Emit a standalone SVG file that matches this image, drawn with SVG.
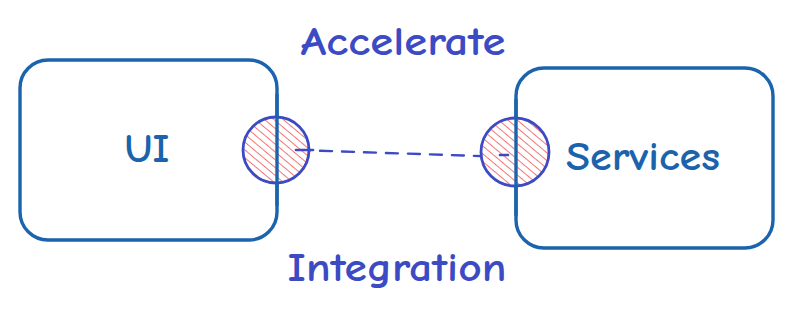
<svg xmlns="http://www.w3.org/2000/svg" width="792" height="314" viewBox="0 0 792 314">
  <style>
    .box { fill: none; stroke: #1c63ad; stroke-width: 3.4; stroke-linecap: round; }
    .port { fill: url(#hatch); stroke: #3c4ac4; stroke-width: 2.8; }
    .link { fill: none; stroke: #3c4ac4; stroke-width: 2.4; stroke-dasharray: 12 10; stroke-linecap: round; }
    .tick { stroke: #3c4ac4; stroke-width: 2.6; stroke-linecap: round; }
    .lbl { font-family: "Comic Neue", "Lato", "Open Sans", sans-serif; font-size: 40px; font-weight: bold; text-anchor: middle; dominant-baseline: central; }
    .node-lbl { fill: #1c63ad; }
    .edge-lbl { fill: #3c4ac4; }
  </style>
  <defs>
    <pattern id="hatch" patternUnits="userSpaceOnUse" width="6" height="6" patternTransform="rotate(-50)">
      <rect width="6" height="6" fill="#ffffff"/>
      <line x1="0" y1="0" x2="0" y2="6" stroke="#f04848" stroke-width="1.5"/>
    </pattern>
  </defs>

  <g id="ui">
    <rect class="box" x="20" y="60" width="257" height="180" rx="28"/>
    <text class="lbl node-lbl" x="147" y="149" textLength="45" lengthAdjust="spacingAndGlyphs">UI</text>
  </g>

  <g id="services">
    <rect class="box" x="516" y="68" width="257" height="180" rx="28"/>
    <text class="lbl node-lbl" x="643" y="157" textLength="154" lengthAdjust="spacingAndGlyphs">Services</text>
  </g>

  <g id="connectors">
    <line class="link" x1="298" y1="150" x2="508" y2="157"/>
    <circle id="port-ui" class="port" cx="276" cy="150" r="33"/>
    <line class="tick" x1="296" y1="150" x2="313" y2="150"/>
    <circle id="port-services" class="port" cx="515" cy="152" r="34"/>
    <line class="tick" x1="500" y1="155" x2="508" y2="155"/>
    <!-- box edges drawn over the ports -->
    <line class="box" x1="277" y1="95" x2="277" y2="205"/>
    <line class="box" x1="516" y1="100" x2="516" y2="215"/>
    <text class="lbl edge-lbl" x="403" y="42" textLength="205" lengthAdjust="spacingAndGlyphs">Accelerate</text>
    <text class="lbl edge-lbl" x="397" y="268" textLength="219" lengthAdjust="spacingAndGlyphs">Integration</text>
  </g>
</svg>
